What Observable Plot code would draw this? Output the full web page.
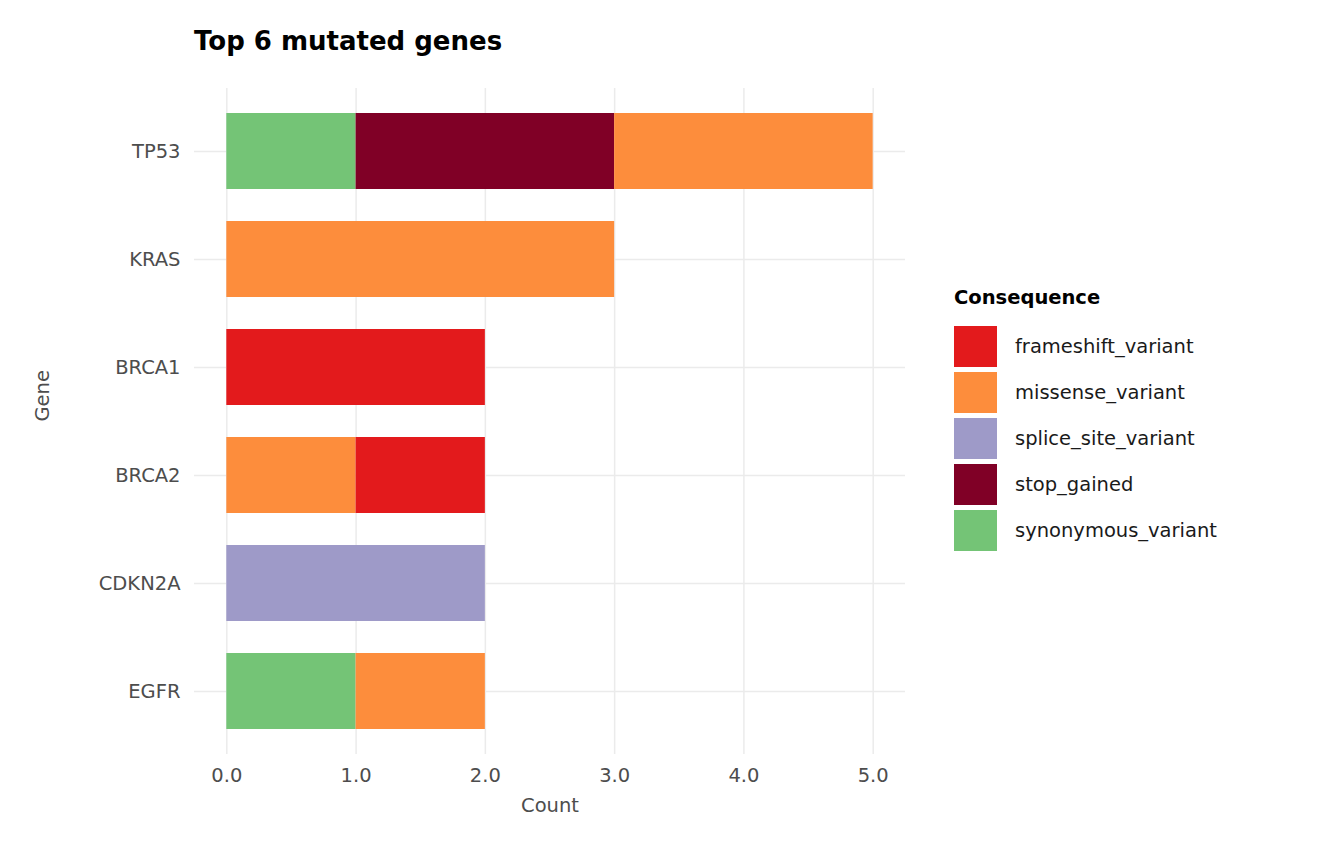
<!DOCTYPE html>
<html><head><meta charset="utf-8">
<script src="https://cdn.jsdelivr.net/npm/d3@7"></script>
<script src="https://cdn.jsdelivr.net/npm/@observablehq/plot@0.6"></script>
<style>
body{margin:0;background:#fff;font-family:"DejaVu Sans",sans-serif;}
#wrap{position:relative;width:1344px;height:864px;}
#title{position:absolute;left:194px;top:26px;font-size:26px;font-weight:bold;color:#000;}
#legend{position:absolute;left:954px;top:286px;font-size:19.5px;color:#1a1a1a;}
#legend .t{font-weight:bold;color:#000;margin-bottom:14px;font-size:19.5px;}
#legend .r{display:flex;align-items:center;height:46px;}
#legend .k{width:43px;height:41px;margin-right:18px;}
</style></head><body>
<div id="wrap"><div id="title">Top 6 mutated genes</div><div id="legend"></div></div>
<script>
const genes = ["TP53","KRAS","BRCA1","BRCA2","CDKN2A","EGFR"];
const consequences = ["frameshift_variant","missense_variant","splice_site_variant","stop_gained","synonymous_variant"];
const colors = ["#E31A1C","#FD8D3C","#9E9AC8","#800026","#74C476"];
const stackOrder = ["synonymous_variant","stop_gained","splice_site_variant","missense_variant","frameshift_variant"];
const rowGene = ["TP53","TP53","TP53","KRAS","BRCA1","BRCA2","BRCA2","CDKN2A","EGFR","EGFR"];
const rowCons = ["synonymous_variant","stop_gained","missense_variant","missense_variant","frameshift_variant","missense_variant","frameshift_variant","splice_site_variant","synonymous_variant","missense_variant"];
const rowCount = [1,2,2,3,2,1,1,2,1,1];
const data = rowGene.map((g,i)=>({gene:g,cons:rowCons[i],count:rowCount[i]}));

const chart = Plot.plot({
  width:1344, height:864,
  marginLeft:194, marginRight:439, marginTop:88, marginBottom:110,
  style:{fontFamily:"DejaVu Sans, sans-serif", fontSize:"19.5px", color:"#4d4d4d", background:"transparent"},
  x:{domain:[-0.25,5.25], ticks:[0,1,2,3,4,5], label:null},
  y:{domain:genes, padding:0.3, paddingOuter:0.228, label:null},
  color:{domain:consequences, range:colors},
  marks:[
    Plot.gridX([0,1,2,3,4,5],{stroke:"#ebebeb",strokeOpacity:1,strokeWidth:1.5}),
    Plot.gridY(genes,{stroke:"#ebebeb",strokeOpacity:1,strokeWidth:1.5}),
    Plot.barX(data, Plot.stackX({x:"count", y:"gene", fill:"cons", order:stackOrder})),
    Plot.axisX({ticks:[0,1,2,3,4,5], tickSize:0, tickPadding:14, fontSize:"19.5px", fill:"#4d4d4d", label:null}),
    Plot.axisY({tickSize:0, tickPadding:14, fontSize:"19.5px", fill:"#4d4d4d", label:null}),
    Plot.text(["Count"],{frameAnchor:"bottom", dy:57, fontSize:"19.5px", fill:"#4d4d4d"}),
    Plot.text(["Gene"],{frameAnchor:"left", dx:-152, rotate:-90, fontSize:"19.5px", fill:"#4d4d4d"})
  ]
});
document.getElementById("wrap").prepend(chart);
const lg = document.getElementById("legend");
lg.innerHTML = '<div class="t">Consequence</div>' + consequences.map((c,i)=>`<div class="r"><div class="k" style="background:${colors[i]}"></div>${c}</div>`).join("");
</script></body></html>
